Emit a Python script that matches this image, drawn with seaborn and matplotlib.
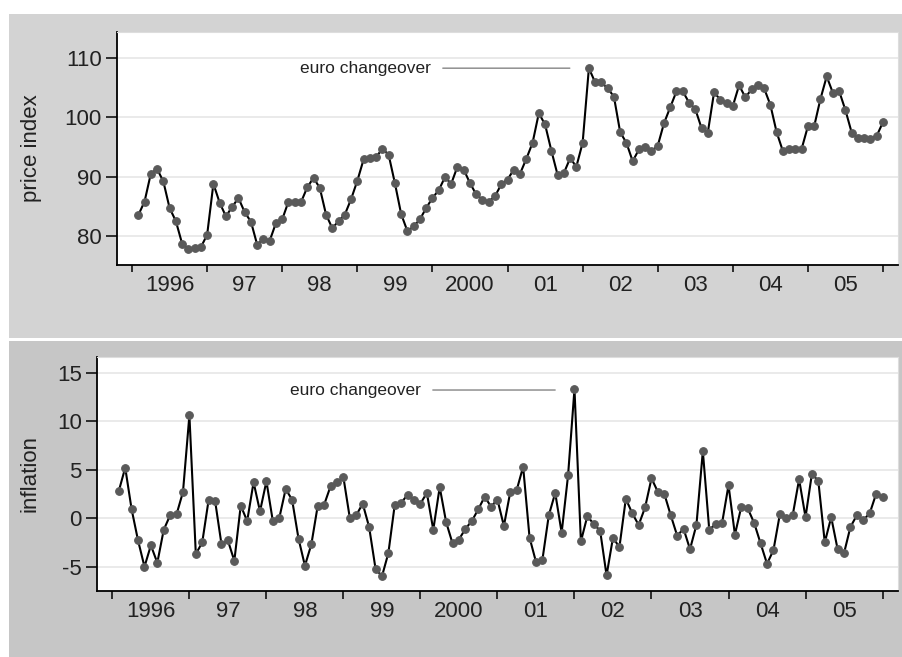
import matplotlib
matplotlib.use("Agg")
import matplotlib.pyplot as plt
import matplotlib.patches as mpatches
import numpy as np
import pandas as pd
import seaborn as sns

# monthly data, Jan 1996 - Dec 2005
years = list(range(1996, 2006))
year_labels = ["1996", "97", "98", "99", "2000", "01", "02", "03", "04", "05"]

price_index = [
    83.5, 85.8, 90.5, 91.3, 89.2, 84.7, 82.5, 78.7, 77.8, 77.9, 78.1, 80.2,
    88.8, 85.6, 83.3, 84.9, 86.4, 84.0, 82.4, 78.5, 79.5, 79.2, 82.2, 82.8,
    85.8, 85.7, 85.7, 88.2, 89.8, 88.1, 83.6, 81.3, 82.5, 83.6, 86.2, 89.3,
    92.9, 93.1, 93.3, 94.7, 93.7, 88.9, 83.7, 80.8, 81.6, 82.8, 84.7, 86.4,
    87.7, 89.9, 88.8, 91.7, 91.2, 88.9, 87.0, 86.1, 85.8, 86.7, 88.7, 89.5,
    91.2, 90.5, 93.0, 95.7, 100.7, 98.8, 94.4, 90.3, 90.6, 93.1, 91.7, 95.7,
    108.3, 105.9, 105.9, 104.9, 103.5, 97.5, 95.7, 92.6, 94.6, 95.0, 94.3, 95.2,
    99.0, 101.7, 104.4, 104.4, 102.5, 101.4, 98.2, 97.4, 104.2, 103.0, 102.4, 101.9,
    105.4, 103.4, 104.7, 105.5, 104.9, 102.1, 97.5, 94.3, 94.6, 94.6, 94.7, 98.5,
    98.5, 103.1, 106.9, 104.1, 104.4, 101.2, 97.4, 96.5, 96.5, 96.4, 96.9, 99.2,
]

inflation = [
    2.8, 5.2, 0.9, -2.3, -5.0, -2.8, -4.6, -1.2, 0.3, 0.4, 2.7, 10.6,
    -3.7, -2.5, 1.9, 1.8, -2.7, -2.3, -4.4, 1.3, -0.3, 3.7, 0.7, 3.8,
    -0.3, 0.0, 3.0, 1.9, -2.1, -4.9, -2.7, 1.3, 1.4, 3.3, 3.7, 4.2,
    0.0, 0.3, 1.5, -0.9, -5.2, -6.0, -3.6, 1.4, 1.6, 2.4, 1.9, 1.5,
    2.6, -1.2, 3.2, -0.4, -2.6, -2.2, -1.1, -0.3, 0.9, 2.2, 1.2, 1.9,
    -0.8, 2.7, 2.9, 5.3, -2.0, -4.5, -4.3, 0.3, 2.6, -1.5, 4.4, 13.3,
    -2.4, 0.2, -0.6, -1.3, -5.9, -2.0, -3.0, 2.0, 0.5, -0.7, 1.1, 4.1,
    2.7, 2.5, 0.3, -1.8, -1.1, -3.2, -0.7, 6.9, -1.2, -0.6, -0.5, 3.4,
    -1.7, 1.2, 1.0, -0.5, -2.6, -4.7, -3.3, 0.4, 0.0, 0.3, 4.0, 0.1,
    4.6, 3.8, -2.5, 0.1, -3.2, -3.6, -0.9, 0.3, -0.2, 0.5, 2.5, 2.2,
]

year_col = np.repeat(years, 12)
month_col = np.tile(np.arange(1, 13), len(years))
df = pd.DataFrame({"year": year_col, "month": month_col,
                   "price index": price_index, "inflation": inflation})
df["t"] = df["year"] + df["month"] / 12

sns.set_style("white")
plt.rcParams["font.family"] = ["Liberation Sans", "DejaVu Sans"]

fig = plt.figure(figsize=(9.03, 6.57), dpi=100)
fig.patch.set_facecolor("white")
# grey panel backgrounds (Stata style), drawn behind the axes
fig.patches.append(mpatches.Rectangle((0.01, 0.4855), 0.99, 0.4932, transform=fig.transFigure,
                                      facecolor="#d3d3d3", edgecolor="none", zorder=-5))
fig.patches.append(mpatches.Rectangle((0.01, 0.0), 0.99, 0.481, transform=fig.transFigure,
                                      facecolor="#c6c6c6", edgecolor="none", zorder=-5))

ax1 = fig.add_axes([0.1296, 0.5967, 0.8649, 0.3546])
ax2 = fig.add_axes([0.1074, 0.1005, 0.887, 0.3561])

panels = [
    (ax1, "price index", [80, 90, 100, 110], (75.1, 114.4), (1998.24, 108.3), (2001.83, 108.3), -0.096, 5),
    (ax2, "inflation", [-5, 0, 5, 10, 15], (-7.5, 16.6), (1998.31, 13.2), (2001.75, 13.2), -0.071, 6),
]

for ax, col, yticks, ylim, txt_xy, pt_xy, lab_x, xtick_len in panels:
    ax.set_facecolor("white")
    sns.lineplot(data=df, x="t", y=col, ax=ax, color="black", linewidth=1.5,
                 marker="o", markersize=5.5, markerfacecolor="#5a5a5a",
                 markeredgecolor="#5a5a5a", markeredgewidth=0.8)
    ax.set_xlim(1995.8, 2006.2)
    ax.set_ylim(*ylim)
    ax.set_yticks(yticks)
    ax.set_yticklabels([str(v) for v in yticks])
    ax.grid(axis="y", color="#e6e6e6", linewidth=1.2)
    ax.set_axisbelow(True)

    ax.set_xticks(range(1996, 2007))
    ax.set_xticklabels([])
    ax.set_xticks([y + 0.5 for y in years], minor=True)
    ax.set_xticklabels(year_labels, minor=True)
    ax.tick_params(axis="x", which="major", bottom=True, direction="out",
                   length=xtick_len, width=1.1, color="black")
    ax.tick_params(axis="x", which="minor", bottom=True, length=0, pad=7,
                   labelsize=16, labelcolor="#222222")
    ax.tick_params(axis="y", which="major", left=True, direction="out", length=8,
                   width=1.1, color="black", pad=3, labelsize=16, labelcolor="#222222")

    for s in ["left", "bottom"]:
        ax.spines[s].set_color("black")
        ax.spines[s].set_linewidth(1.3)
    for s in ["top", "right"]:
        ax.spines[s].set_color("#dddddd")
        ax.spines[s].set_linewidth(0.8)

    ax.set_xlabel("")
    ax.set_ylabel(col, fontsize=16, color="#222222")
    ax.yaxis.set_label_coords(lab_x, 0.5)

    ax.annotate("euro changeover", xy=pt_xy, xytext=txt_xy, va="center", ha="left",
                fontsize=12.5, color="#222222",
                arrowprops=dict(arrowstyle="-", color="#777777", lw=0.9, shrinkA=6, shrinkB=0))

fig.savefig("out.png", dpi=100, facecolor=fig.get_facecolor())
